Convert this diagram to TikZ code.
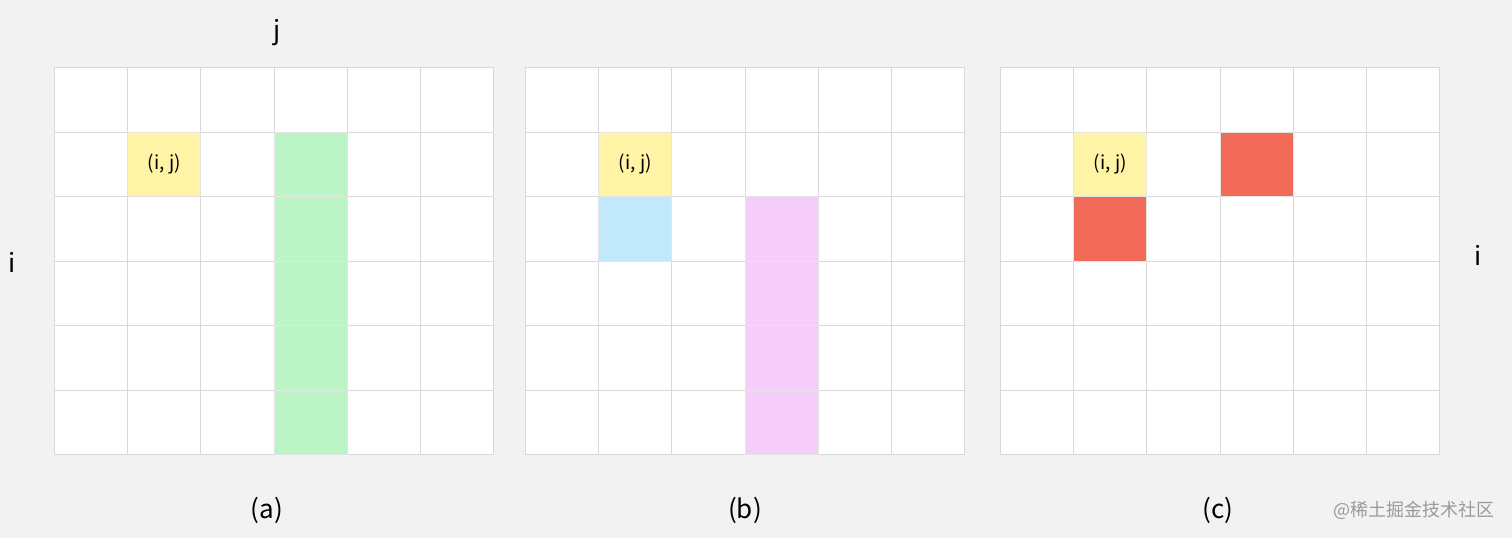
\documentclass[tikz,border=0pt]{standalone}
\usepackage{fontspec}
\setmainfont{Noto Sans CJK SC}
\definecolor{bggray}{HTML}{F2F2F2}
\definecolor{gridgray}{HTML}{D9D9D9}
\definecolor{cellyellow}{HTML}{FFF3A6}
\definecolor{cellgreen}{HTML}{BBF5C6}
\definecolor{cellblue}{HTML}{C2E8FB}
\definecolor{cellpink}{HTML}{F6CDF8}
\definecolor{cellred}{HTML}{F26B58}
\definecolor{markgray}{HTML}{9A9A9A}
\begin{document}
\begin{tikzpicture}[x=1pt,y=-1pt,
    cell/.style={draw=gridgray,line width=0.9pt,fill=white,inner sep=0pt,
      minimum width=73.2pt,minimum height=64.5pt,anchor=north west},
    hilite/.style={cell,draw=gridgray!70,fill=#1},
    axislbl/.style={font=\fontsize{26}{30}\selectfont},
    celltext/.style={font=\fontsize{19}{22}\selectfont}]
    % Page and background
    \useasboundingbox (0,0) rectangle (1512,538);
    \fill[bggray] (0,0) rectangle (1512,538);

    % Three 6x6 grids
    \foreach \g/\x in {a/54,b/525,c/1000} {
      \foreach \r in {0,...,5} {
        \foreach \c in {0,...,5} {
          \node[cell] (\g\r\c) at (\x+\c*73.2,67+\r*64.5) {};
        }
      }
    }

    % Current cell (i, j) in every grid
    \foreach \g in {a,b,c} {
      \node[hilite=cellyellow,celltext] (\g ij) at (\g11.north west) {(i, j)};
    }

    % (a): column below row i
    \foreach \r in {1,...,5} {
      \node[hilite=cellgreen] (agreen\r) at (a\r3.north west) {};
    }

    % (b): cell below and column further right
    \node[hilite=cellblue] (bblue) at (b21.north west) {};
    \foreach \r in {2,...,5} {
      \node[hilite=cellpink] (bpink\r) at (b\r3.north west) {};
    }

    % (c): two single cells
    \node[hilite=cellred] (cred1) at (c21.north west) {};
    \node[hilite=cellred] (cred2) at (c13.north west) {};

    % Axis and caption labels
    \node[axislbl] (lblj) at (277,33) {j};
    \node[axislbl] (lblil) at (12,262) {i};
    \node[axislbl] (lblir) at (1478,255) {i};
    \node[axislbl] (capa) at (267,510) {(a)};
    \node[axislbl] (capb) at (745,510) {(b)};
    \node[axislbl] (capc) at (1218,510) {(c)};
    \node[font=\fontsize{18}{21}\selectfont,text=markgray] (wmark) at (1414,510) {@稀土掘金技术社区};
  \end{tikzpicture}
\end{document}
